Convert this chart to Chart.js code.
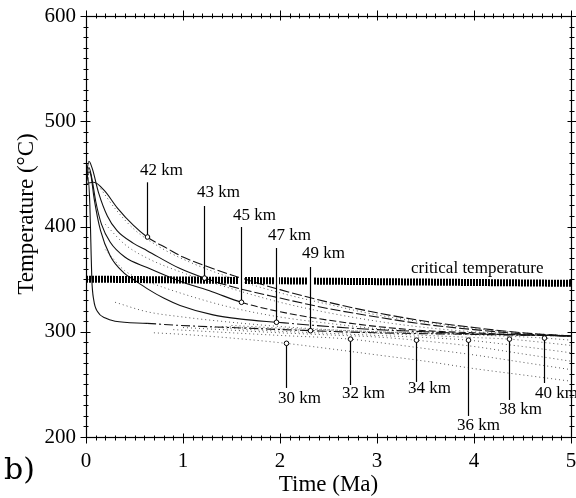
<!DOCTYPE html>
<html><head><meta charset="utf-8">
<script src="https://cdn.jsdelivr.net/npm/chart.js@4/dist/chart.umd.min.js"></script>
<style>html,body{margin:0;padding:0;background:#fff;}#wrap{width:576px;height:498px;}</style>
</head><body><div id="wrap"><canvas id="c" width="576" height="498"></canvas></div>
<script>
// ---------- data (time in Ma, temperature in °C) ----------
const xTickValues = [0, 1, 2, 3, 4, 5];
const yTickValues = [200, 300, 400, 500, 600];

const t42 = [0, 0.08, 0.19, 0.32, 0.49, 0.63, 0.84, 1.0, 1.25, 1.5, 2, 2.5, 3, 3.5, 4, 4.5, 5];
const T42 = [441, 442, 434, 418, 401, 390, 379, 371, 362, 354, 340, 328, 318, 310, 304, 299, 296];
const t43 = [0, 0.03, 0.065, 0.13, 0.22, 0.32, 0.49, 0.63, 0.97, 1.22, 1.5, 2, 2.5, 3, 3.5, 4, 4.5, 5];
const T43 = [446, 462, 455, 432, 410, 396, 384, 377, 360, 351, 343, 332, 322, 314, 307, 302, 298, 296];
const t45 = [0, 0.03, 0.06, 0.1, 0.16, 0.25, 0.4, 0.63, 0.97, 1.3, 1.6, 2, 2.5, 3, 3.5, 4, 4.5, 5];
const T45 = [443, 456, 446, 424, 402, 385, 371, 361, 348, 338, 328, 319, 311, 305, 301, 299, 297, 296];
const t47 = [0, 0.03, 0.05, 0.083, 0.15, 0.25, 0.39, 0.5, 0.63, 0.8, 0.97, 1.31, 1.6, 1.97, 2.5, 3, 3.5, 4, 4.5, 5];
const T47 = [440, 452, 449, 427, 396, 372, 356, 349, 341, 332, 325, 316, 312, 309, 305, 302, 300, 298, 297, 296];
const t49 = [0, 0.02, 0.04, 0.05, 0.06, 0.08, 0.12, 0.2, 0.3, 0.63, 0.97, 1.5, 2.31, 3, 4, 5];
const T49 = [440, 447, 420, 385, 350, 330, 319, 313, 310, 308, 306, 304, 301, 299, 297.5, 296];

const tU1 = [0.15, 0.3, 0.5, 0.75, 1, 1.5, 2, 2.5, 3, 3.5, 4, 4.5, 5];
const TU1 = [436, 417, 397, 381, 369, 351, 337, 326, 316, 309, 303, 299, 296];
const tU2 = [0.2, 0.4, 0.63, 1, 1.5, 2, 2.5, 3, 3.5, 4, 4.5, 5];
const TU2 = [402, 383, 370, 356, 341, 328, 318, 310, 304, 300, 298, 296];
const tU3 = [0.2, 0.4, 0.63, 1, 1.5, 2, 2.5, 3, 3.5, 4, 4.5, 5];
const TU3 = [378, 358, 348, 336, 323, 314, 308, 303, 300, 298, 297, 296];
const tU4 = [0.3, 0.63, 1, 1.5, 2, 2.5, 3, 4, 5];
const TU4 = [328, 319, 314, 309, 305, 302, 300, 298, 296];

const t30 = [0.7, 1, 1.5, 2.06, 2.5, 3, 3.5, 4, 4.5, 5];
const T30 = [299, 297.5, 294, 289, 284, 278, 272, 265, 259, 253];
const t32 = [0.9, 1.5, 2, 2.72, 3, 3.5, 4, 4.5, 5];
const T32 = [302, 299, 296.5, 293, 290, 284, 278, 271, 264];
const t34 = [1.0, 1.5, 2, 2.5, 3, 3.4, 4, 4.5, 5];
const T34 = [304, 301.5, 299, 297, 295, 292, 286, 279, 272];
const t36 = [1.2, 2, 2.5, 3, 3.5, 3.94, 4.5, 5];
const T36 = [305, 300.5, 298.5, 296.5, 294.5, 292, 286, 280];
const t38 = [1.4, 2, 3, 3.5, 4, 4.36, 4.7, 5];
const T38 = [305, 302.5, 298.5, 296.5, 294.5, 293, 290, 287];
const t40 = [1.5, 2, 3, 4, 4.72, 5];
const T40 = [306, 303.5, 300, 297, 294, 292];

const tCrit = [0, 5];
const TCrit = [350, 346];

// depth labels: text, marker time, marker temp, leader end temp, text time, text baseline temp
const depthLabels = [
  ['42 km', 0.63, 390, 442, 0.557, 449],
  ['43 km', 1.22, 351, 419.5, 1.144, 428],
  ['45 km', 1.60, 328, 399.5, 1.515, 406],
  ['47 km', 1.96, 309, 379.6, 1.876, 387],
  ['49 km', 2.31, 301, 361.5, 2.227, 370],
  ['30 km', 2.06, 289, 246.6, 1.979, 232.3],
  ['32 km', 2.72, 293, 249.4, 2.639, 237.1],
  ['34 km', 3.40, 292, 252.3, 3.32, 241.8],
  ['36 km', 3.94, 292, 220, 3.825, 206.7],
  ['38 km', 4.36, 293, 235.2, 4.258, 221.9],
  ['40 km', 4.72, 294, 251.3, 4.629, 237.1]
];
const critLabel = ['critical temperature', 3.35, 355.8];

// ---------- helpers ----------
const pts = (ts, vs) => ts.map((t, i) => ({x: t, y: vs[i]}));
const SERIF = '"Liberation Serif", "Times New Roman", serif';

function solid(ts, vs, markT, after) {
  return {
    data: pts(ts, vs), borderColor: '#111', borderWidth: 1.1, pointRadius: 0,
    cubicInterpolationMode: 'monotone', fill: false,
    segment: { borderDash: ctx => (ctx.p0.parsed.x >= markT - 1e-9 ? after : undefined) }
  };
}
function dotted(ts, vs) {
  return {
    data: pts(ts, vs), borderColor: '#555', borderWidth: 1, pointRadius: 0,
    borderDash: [1, 3], cubicInterpolationMode: 'monotone', fill: false
  };
}

const datasets = [
  { data: pts(tCrit, TCrit), borderColor: '#000', borderWidth: 7, borderDash: [2, 1],
    borderCapStyle: 'butt', pointRadius: 0, fill: false },
  solid(t42, T42, 0.63, [10, 3]),
  solid(t43, T43, 1.22, [10, 3]),
  solid(t45, T45, 1.60, [7, 3]),
  solid(t47, T47, 1.97, [12, 3, 2, 3]),
  solid(t49, T49, 0.6, [9, 3, 2, 3]),
  dotted(tU1, TU1), dotted(tU2, TU2), dotted(tU3, TU3), dotted(tU4, TU4),
  dotted(t30, T30), dotted(t32, T32), dotted(t34, T34),
  dotted(t36, T36), dotted(t38, T38), dotted(t40, T40)
];

function seg(ctx, x1, y1, x2, y2) { ctx.beginPath(); ctx.moveTo(x1, y1); ctx.lineTo(x2, y2); ctx.stroke(); }

const decor = {
  id: 'decor',
  afterDatasetsDraw(chart) {
    const {ctx, chartArea: a, scales: {x, y}} = chart;
    ctx.save();
    for (const L of depthLabels) {
      const px = Math.round(x.getPixelForValue(L[1])) + 0.5;
      const py = y.getPixelForValue(L[2]);
      const pe = y.getPixelForValue(L[3]);
      const tc = TCrit[0] + (TCrit[1] - TCrit[0]) * (L[1] - tCrit[0]) / (tCrit[1] - tCrit[0]);
      const b1 = y.getPixelForValue(tc + 4.5), b2 = y.getPixelForValue(tc - 4.5);
      const lo = Math.max(Math.min(py, pe), b1), hi = Math.min(Math.max(py, pe), b2);
      if (hi > lo) { ctx.strokeStyle = '#fff'; ctx.lineWidth = 5; seg(ctx, px, lo, px, hi); }
      ctx.strokeStyle = '#000'; ctx.lineWidth = 1.2;
      seg(ctx, px, py, px, pe);
      ctx.beginPath(); ctx.arc(px, py, 2.3, 0, Math.PI * 2);
      ctx.fillStyle = '#fff'; ctx.fill(); ctx.lineWidth = 1; ctx.stroke();
      ctx.fillStyle = '#000'; ctx.font = '17px ' + SERIF;
      ctx.textAlign = 'left'; ctx.textBaseline = 'alphabetic';
      ctx.fillText(L[0], x.getPixelForValue(L[4]), y.getPixelForValue(L[5]));
    }
    ctx.font = '17px ' + SERIF; ctx.fillStyle = '#000';
    ctx.fillText(critLabel[0], x.getPixelForValue(critLabel[1]), y.getPixelForValue(critLabel[2]));

    // frame
    ctx.strokeStyle = '#000'; ctx.lineWidth = 1.2;
    const L0 = Math.round(a.left) + 0.5, R0 = Math.round(a.right) + 0.5;
    const T0 = Math.round(a.top) + 0.5, B0 = Math.round(a.bottom) + 0.5;
    ctx.strokeRect(L0, T0, R0 - L0, B0 - T0);
    ctx.lineWidth = 1;
    for (let i = 0; i <= 50; i++) {
      const v = i / 10, major = i % 10 === 0;
      const px = Math.round(x.getPixelForValue(v)) + 0.5;
      const out = major ? 6 : 3, inn = major ? 4 : 2;
      seg(ctx, px, B0 + out, px, B0 - inn);
      seg(ctx, px, T0 - out, px, T0 + inn);
    }
    for (let v = 200; v <= 600; v += 10) {
      const major = v % 100 === 0;
      const py = Math.round(y.getPixelForValue(v)) + 0.5;
      const out = major ? 6 : 3, inn = major ? 4 : 2;
      seg(ctx, L0 - out, py, L0 + inn, py);
      seg(ctx, R0 + out, py, R0 - inn, py);
    }
    ctx.fillStyle = '#000';
    ctx.font = '23px ' + SERIF; ctx.textAlign = 'center'; ctx.textBaseline = 'alphabetic';
    ctx.fillText('Time (Ma)', (a.left + a.right) / 2, 491);
    ctx.save();
    ctx.translate(33, 214); ctx.rotate(-Math.PI / 2);
    ctx.fillText('Temperature (°C)', 0, 0);
    ctx.restore();
    ctx.font = '30px "DejaVu Serif", serif'; ctx.textAlign = 'left';
    ctx.fillText('b)', 4, 479);
    ctx.restore();
  }
};

new Chart(document.getElementById('c'), {
  type: 'line',
  data: { datasets },
  options: {
    responsive: false, animation: false, devicePixelRatio: 1,
    layout: { padding: { top: 16, right: 5, left: 0, bottom: 0 } },
    plugins: { legend: { display: false }, tooltip: { enabled: false } },
    scales: {
      x: {
        type: 'linear', min: 0, max: 5,
        afterBuildTicks: s => { s.ticks = xTickValues.map(v => ({value: v})); },
        afterFit: s => { s.height = 61; s.paddingLeft = 0; s.paddingRight = 0; },
        grid: { display: false, drawTicks: false }, border: { display: false },
        ticks: { color: '#000', font: { family: SERIF, size: 21 }, padding: 12, maxRotation: 0 }
      },
      y: {
        type: 'linear', min: 200, max: 600,
        afterBuildTicks: s => { s.ticks = yTickValues.map(v => ({value: v})); },
        afterFit: s => { s.width = 86; s.paddingTop = 0; s.paddingBottom = 0; },
        grid: { display: false, drawTicks: false }, border: { display: false },
        ticks: { color: '#000', font: { family: SERIF, size: 21 }, padding: 10 }
      }
    }
  },
  plugins: [decor]
});
</script></body></html>
